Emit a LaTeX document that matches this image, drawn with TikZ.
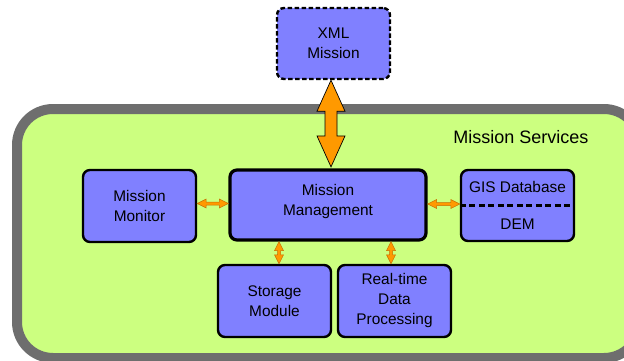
\documentclass[tikz,border=0pt]{standalone}
\usepackage{fontspec}
\setmainfont{Liberation Sans}
\usetikzlibrary{calc}

\definecolor{boxblue}{RGB}{128,128,255}
\definecolor{svcgreen}{RGB}{204,255,128}
\definecolor{svcgrey}{RGB}{110,110,110}
\definecolor{arrorange}{RGB}{255,153,0}
\definecolor{arredge}{RGB}{200,110,0}

% vertical two-headed block arrow: top point, bottom point, head half-width, shaft half-width, head length, style
\newcommand\vbidi[6]{%
  \path[#6] let \p1=#1, \p2=#2 in
    (\x1,\y1) -- (\x1-#3,\y1-#5) -- (\x1-#4,\y1-#5) -- (\x1-#4,\y2+#5) -- (\x1-#3,\y2+#5)
    -- (\x1,\y2) -- (\x1+#3,\y2+#5) -- (\x1+#4,\y2+#5) -- (\x1+#4,\y1-#5) -- (\x1+#3,\y1-#5) -- cycle;}
% horizontal two-headed block arrow: left point, right point, head half-width, shaft half-width, head length, style
\newcommand\hbidi[6]{%
  \path[#6] let \p1=#1, \p2=#2 in
    (\x1,\y1) -- (\x1+#5,\y1+#3) -- (\x1+#5,\y1+#4) -- (\x2-#5,\y1+#4) -- (\x2-#5,\y1+#3)
    -- (\x2,\y1) -- (\x2-#5,\y1-#3) -- (\x2-#5,\y1-#4) -- (\x1+#5,\y1-#4) -- (\x1+#5,\y1-#3) -- cycle;}

\tikzset{
  boxtext/.style={align=center, inner sep=0pt, font=\fontsize{15.4}{20}\selectfont},
  module/.style={draw=black, line width=2.4pt, fill=boxblue, rounded corners=7pt,
    minimum width=113pt, minimum height=71pt, boxtext},
  bigarrow/.style={fill=arrorange, draw=black, line width=0.7pt},
  smallarrow/.style={fill=arrorange, draw=arredge, line width=0.5pt},
}

\begin{document}
\begin{tikzpicture}[x=1pt,y=1pt]
\useasboundingbox (0,0) rectangle (624,360);

% service container
\draw[svcgrey, line width=10pt, fill=svcgreen, rounded corners=36pt]
  (17,251) rectangle (640,2);
\node[font=\fontsize{18}{22}\selectfont] (svc) at (521,223) {Mission Services};

% modules
\node[module, dash pattern=on 4.5pt off 2.5pt] (xml) at (333.5,316.5) {XML\\Mission};
\node[module, minimum height=72pt] (mon) at (139.5,154) {Mission\\Monitor};
\node[module, line width=3.2pt, minimum width=196pt, minimum height=70pt] (mm) at (328,155) {};
\node[boxtext] (mmtxt) at ($(mm.center)+(0,3)$) {Mission\\Management};
\node[module] (gis) at (517.5,154.5) {};
\node[boxtext] (gisdb) at ($(gis.center)+(0,18.5)$) {GIS Database};
\node[boxtext] (dem) at ($(gis.center)+(0,-18.5)$) {DEM};
\draw[line width=2.4pt, dash pattern=on 6pt off 3.5pt] (gis.west) -- (gis.east);
\node[module, minimum height=72pt] (sto) at (274.5,59) {Storage\\Module};
\node[module, minimum height=72pt] (rt) at (394.5,59) {Real-time\\Data\\Processing};

% connector end points
\coordinate (xmlend) at ([xshift=-2.5pt]xml.south);
\coordinate (mmtop) at ($(mm.north -| xmlend)+(0,1.5)$);
\coordinate (stotop) at ([xshift=4.5pt]sto.north);
\coordinate (rttop) at ([xshift=-3.5pt]rt.north);
\coordinate (monr) at ([yshift=2.5pt]mon.east);
\coordinate (mmr) at ([yshift=1pt]mm.east);

% connectors
\vbidi{(xmlend)}{(mmtop)}{14pt}{6pt}{31pt}{bigarrow}
\hbidi{(monr)}{(monr -| mm.west)}{4.5pt}{1.5pt}{9pt}{smallarrow}
\hbidi{(mmr)}{(mmr -| gis.west)}{4.5pt}{1.5pt}{9pt}{smallarrow}
\vbidi{(mm.south -| stotop)}{(stotop)}{4.5pt}{1.5pt}{9pt}{smallarrow}
\vbidi{(mm.south -| rttop)}{(rttop)}{4.5pt}{1.5pt}{9pt}{smallarrow}
\end{tikzpicture}
\end{document}
